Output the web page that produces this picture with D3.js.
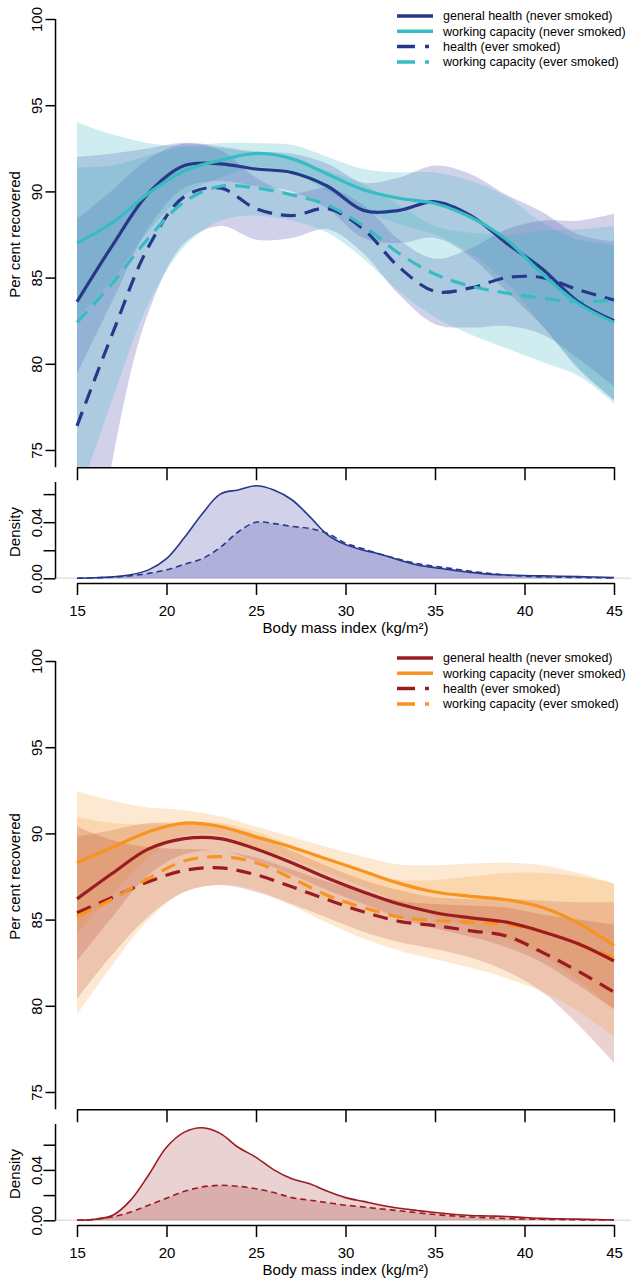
<!DOCTYPE html>
<html>
<head>
<meta charset="utf-8">
<script src="https://cdn.jsdelivr.net/npm/d3@7"></script>
<style>
  body { margin: 0; background: #fff; }
  text { font-family: "Liberation Sans", Arial, Helvetica, sans-serif; fill: #000; }
</style>
</head>
<body>
<div id="chart"></div>
<script>
// BMI positions where the smoothed curves were read
const bmiKnots = [15, 17, 19, 21, 23, 25, 27, 29, 31, 33, 35, 37, 39, 41, 43, 45];

// --- upper figure (blue) ---
const topHealthNever   = [83.6, 86.9, 89.9, 91.5, 91.6, 91.3, 91.1, 90.3, 88.9, 88.9, 89.4, 88.6, 87.0, 85.5, 83.6, 82.5];
const topHealthNeverLo = [79.4, 83.7, 87.9, 90.2, 90.6, 90.3, 90.0, 89.0, 87.3, 87.0, 87.3, 86.2, 84.2, 82.2, 79.7, 77.9];
const topHealthNeverHi = [88.4, 90.1, 91.9, 92.8, 92.6, 92.3, 92.2, 91.6, 90.5, 90.8, 91.5, 91.0, 89.8, 88.8, 87.5, 87.1];
const topWorkNever     = [87.0, 88.2, 89.9, 91.2, 91.8, 92.2, 91.9, 91.0, 90.1, 89.6, 89.3, 88.5, 87.2, 85.2, 83.5, 82.4];
const topWorkNeverLo   = [82.6, 84.9, 87.7, 89.8, 90.8, 91.4, 91.1, 90.0, 88.9, 88.1, 87.5, 86.4, 84.7, 82.2, 79.8, 77.9];
const topWorkNeverHi   = [91.4, 91.5, 92.1, 92.6, 92.8, 92.8, 92.7, 92.0, 91.3, 91.1, 91.1, 90.6, 89.7, 88.2, 87.2, 86.9];
const topHealthEver    = [76.4, 81.8, 86.8, 89.7, 90.2, 89.0, 88.6, 89.0, 87.8, 85.6, 84.2, 84.4, 85.0, 85.0, 84.3, 83.7];
const topHealthEverLo  = [60.0, 74.5, 83.0, 87.0, 88.0, 87.2, 87.3, 87.8, 86.4, 84.0, 82.3, 82.1, 82.2, 81.7, 80.3, 78.7];
const topHealthEverHi  = [92.0, 92.2, 92.5, 92.8, 92.4, 90.8, 89.9, 90.2, 89.2, 87.2, 86.1, 86.7, 87.8, 88.3, 88.3, 88.7];
const topWorkEver      = [82.4, 84.7, 87.3, 89.4, 90.3, 90.2, 89.8, 89.2, 88.0, 86.4, 85.2, 84.5, 84.1, 83.8, 83.6, 83.7];
const topWorkEverLo    = [72.0, 78.0, 83.5, 86.8, 88.3, 88.6, 88.3, 87.6, 86.1, 84.2, 82.7, 81.7, 80.9, 80.1, 79.3, 77.7];
const topWorkEverHi    = [94.0, 93.3, 92.8, 92.6, 92.5, 92.2, 91.8, 91.2, 90.4, 89.2, 88.0, 87.6, 87.5, 87.7, 87.8, 88.0];

// --- lower figure (red/orange) ---
const botHealthNever   = [86.2, 87.7, 89.1, 89.7, 89.7, 89.1, 88.3, 87.4, 86.6, 85.9, 85.4, 85.1, 84.85, 84.3, 83.6, 82.6];
const botHealthNeverLo = [82.6, 85.2, 87.6, 88.8, 89.0, 88.4, 87.6, 86.7, 85.9, 85.1, 84.5, 84.0, 83.4, 82.5, 81.2, 79.8];
const botHealthNeverHi = [89.8, 90.2, 90.6, 90.6, 90.4, 89.8, 89.0, 88.1, 87.3, 86.7, 86.3, 86.2, 86.2, 86.1, 86.0, 86.0];
const botWorkNever     = [88.3, 89.2, 90.1, 90.6, 90.4, 89.8, 89.2, 88.5, 87.8, 87.1, 86.6, 86.35, 86.15, 85.7, 84.8, 83.5];
const botWorkNeverLo   = [84.2, 86.5, 88.6, 89.9, 89.9, 89.2, 88.5, 87.7, 86.9, 86.0, 85.2, 84.6, 83.9, 82.9, 81.5, 79.8];
const botWorkNeverHi   = [92.45, 91.9, 91.5, 91.35, 91.0, 90.4, 89.8, 89.2, 88.65, 88.2, 88.15, 88.25, 88.3, 88.15, 87.7, 87.1];
const botHealthEver    = [85.4, 86.3, 87.2, 87.85, 88.0, 87.6, 86.9, 86.15, 85.45, 84.9, 84.65, 84.35, 84.05, 83.1, 82.0, 80.8];
const botHealthEverLo  = [80.4, 83.0, 85.2, 86.6, 87.0, 86.6, 85.9, 85.1, 84.3, 83.7, 83.3, 82.8, 82.0, 80.8, 78.9, 76.7];
const botHealthEverHi  = [90.4, 89.6, 89.2, 89.1, 89.0, 88.6, 87.9, 87.2, 86.6, 86.1, 85.9, 85.8, 85.7, 85.3, 85.0, 84.7];
const botWorkEver      = [85.2, 86.2, 87.4, 88.4, 88.65, 88.3, 87.4, 86.4, 85.7, 85.15, 84.95, 84.85, 84.7, 84.3, 83.6, 82.8];
const botWorkEverLo    = [79.5, 82.4, 85.0, 86.6, 87.0, 86.7, 85.8, 84.8, 83.9, 83.2, 82.7, 82.2, 81.6, 80.8, 79.7, 78.2];
const botWorkEverHi    = [90.95, 90.6, 90.5, 90.6, 90.6, 90.1, 89.3, 88.4, 87.7, 87.3, 87.3, 87.5, 87.7, 87.7, 87.5, 87.1];

// BMI density (one value per unit of BMI)
const densityBmi = d3.range(15, 46);
const topDensNever = [0, 0.0004, 0.001, 0.0025, 0.006, 0.014, 0.029, 0.046, 0.060, 0.063, 0.066, 0.063, 0.056, 0.044, 0.031, 0.024,
  0.020, 0.017, 0.013, 0.0095, 0.0075, 0.0058, 0.0042, 0.003, 0.0024, 0.002, 0.0017, 0.0015, 0.0012, 0.0009, 0.0005];
const topDensEver = [0, 0.0003, 0.0008, 0.0018, 0.0035, 0.006, 0.010, 0.014, 0.022, 0.033, 0.040, 0.039, 0.037, 0.0355, 0.032, 0.025,
  0.021, 0.017, 0.0135, 0.0105, 0.0085, 0.0068, 0.005, 0.0035, 0.0022, 0.0015, 0.001, 0.0008, 0.0006, 0.0004, 0.0002];
const botDensNever = [0, 0.0008, 0.004, 0.016, 0.036, 0.058, 0.070, 0.0735, 0.069, 0.058, 0.050, 0.040, 0.033, 0.029, 0.023, 0.018,
  0.015, 0.012, 0.0095, 0.0078, 0.0062, 0.0048, 0.0038, 0.0034, 0.003, 0.0022, 0.0015, 0.0012, 0.0009, 0.0006, 0.0003];
const botDensEver = [0, 0.0008, 0.0028, 0.0065, 0.012, 0.0175, 0.023, 0.0265, 0.0278, 0.027, 0.025, 0.022, 0.018, 0.016, 0.014, 0.012,
  0.0106, 0.009, 0.0076, 0.006, 0.0046, 0.0035, 0.0026, 0.002, 0.0014, 0.001, 0.0008, 0.0006, 0.0004, 0.0003, 0.0002];

const recoveredTicks = [75, 80, 85, 90, 95, 100];
const bmiTicks = [15, 20, 25, 30, 35, 40, 45];
const densityTicks = [0, 0.02, 0.04, 0.06];
const densityLabelled = [0, 0.04];
const legendLabels = ['general health (never smoked)', 'working capacity (never smoked)',
                      'health (ever smoked)', 'working capacity (ever smoked)'];

const W = 631, H = 1280;
const svg = d3.select('#chart').append('svg').attr('width', W).attr('height', H);

const x = d3.scaleLinear().domain([15, 45]).range([77, 614]);
const regionLeft = x(13.8), regionRight = x(46.2);

const figures = [
  {
    oy: 0, healthCol: '#27388a', workCol: '#38bcc4',
    healthBand: '#5b5fb4', healthBandOp: 0.28, workBand: '#41b6c4', workBandOp: 0.25,
    densCol: '#27388a', densFill: '#5b5fb4', densFillOp: 0.28,
    series: [
      { v: topHealthNever, lo: topHealthNeverLo, hi: topHealthNeverHi, kind: 'health', dash: false },
      { v: topWorkNever, lo: topWorkNeverLo, hi: topWorkNeverHi, kind: 'work', dash: false },
      { v: topHealthEver, lo: topHealthEverLo, hi: topHealthEverHi, kind: 'health', dash: true },
      { v: topWorkEver, lo: topWorkEverLo, hi: topWorkEverHi, kind: 'work', dash: true }
    ],
    densNever: topDensNever, densEver: topDensEver
  },
  {
    oy: 642, healthCol: '#9b1c20', workCol: '#f7931e',
    healthBand: '#9b1c20', healthBandOp: 0.2, workBand: '#f7931e', workBandOp: 0.2,
    densCol: '#9b1c20', densFill: '#9b1c20', densFillOp: 0.2,
    series: [
      { v: botHealthNever, lo: botHealthNeverLo, hi: botHealthNeverHi, kind: 'health', dash: false },
      { v: botWorkNever, lo: botWorkNeverLo, hi: botWorkNeverHi, kind: 'work', dash: false },
      { v: botHealthEver, lo: botHealthEverLo, hi: botHealthEverHi, kind: 'health', dash: true },
      { v: botWorkEver, lo: botWorkEverLo, hi: botWorkEverHi, kind: 'work', dash: true }
    ],
    densNever: botDensNever, densEver: botDensEver
  }
];

const FONT = 15;

figures.forEach((fig, fi) => {
  const g = svg.append('g').attr('transform', `translate(0,${fig.oy})`);

  // main panel scale: 100 -> 19, 75 -> 450
  const y = d3.scaleLinear().domain([75, 100]).range([450, 19]);
  const top = y(101), bottom = y(74);

  const clipId = 'clip' + fi;
  g.append('clipPath').attr('id', clipId)
    .append('rect').attr('x', regionLeft).attr('y', top)
    .attr('width', regionRight - regionLeft).attr('height', bottom - top);

  const plot = g.append('g').attr('clip-path', `url(#${clipId})`);

  const area = d3.area()
    .x(d => x(d.b)).y0(d => y(d.lo)).y1(d => y(d.hi))
    .curve(d3.curveCatmullRom);
  const line = d3.line()
    .x(d => x(d.b)).y(d => y(d.v))
    .curve(d3.curveCatmullRom);

  fig.series.forEach(s => {
    const pts = bmiKnots.map((b, i) => ({ b, lo: s.lo[i], hi: s.hi[i] }));
    plot.append('path')
      .attr('d', area(pts))
      .attr('fill', s.kind === 'health' ? fig.healthBand : fig.workBand)
      .attr('fill-opacity', s.kind === 'health' ? fig.healthBandOp : fig.workBandOp);
  });

  // dashed first, solid lines on top
  [2, 3, 0, 1].forEach(k => {
    const s = fig.series[k];
    plot.append('path')
      .attr('d', line(bmiKnots.map((b, i) => ({ b, v: s.v[i] }))))
      .attr('fill', 'none')
      .attr('stroke', s.kind === 'health' ? fig.healthCol : fig.workCol)
      .attr('stroke-width', 3.2)
      .attr('stroke-dasharray', s.dash ? '15,9' : null);
  });

  // y axis of main panel
  const yAx = g.append('g').attr('transform', `translate(${regionLeft},0)`)
    .call(d3.axisLeft(y).tickValues(recoveredTicks).tickSize(10).tickSizeOuter(0));
  yAx.select('.domain').remove();
  yAx.append('line').attr('x1', 0).attr('x2', 0).attr('y1', y(100)).attr('y2', bottom)
    .attr('stroke', '#000').attr('stroke-width', 1.5);
  yAx.selectAll('.tick line').attr('stroke-width', 1.5);
  yAx.selectAll('.tick text')
    .attr('transform', 'rotate(-90)').attr('x', 0).attr('y', -14).attr('dy', 0)
    .attr('text-anchor', 'middle').style('font-size', FONT + 'px');

  g.append('text')
    .attr('transform', `translate(20,${(top + bottom) / 2}) rotate(-90)`)
    .attr('text-anchor', 'middle').style('font-size', FONT + 'px')
    .text('Per cent recovered');

  // x axis under main panel (ticks only)
  const xTop = g.append('g').attr('transform', `translate(0,${bottom})`)
    .call(d3.axisBottom(x).tickValues(bmiTicks).tickSize(13).tickSizeOuter(0).tickFormat(''));
  xTop.select('.domain').attr('stroke-width', 1.5);
  xTop.selectAll('.tick line').attr('stroke-width', 1.5);

  // legend
  const leg = g.append('g');
  legendLabels.forEach((lab, i) => {
    const ly = 16 + i * 15.3;
    const s = fig.series[i];
    leg.append('line')
      .attr('x1', 397).attr('x2', 433).attr('y1', ly).attr('y2', ly)
      .attr('stroke', s.kind === 'health' ? fig.healthCol : fig.workCol)
      .attr('stroke-width', 3.5)
      .attr('stroke-dasharray', s.dash ? '18,10,4,10' : null);
    leg.append('text')
      .attr('x', 443).attr('y', ly).attr('dy', '0.35em')
      .style('font-size', '12.5px')
      .text(lab);
  });

  // density panel
  const dMax = d3.max(fig.densNever.concat(fig.densEver));
  const dy = d3.scaleLinear().domain([-0.04 * dMax, 1.04 * dMax]).range([582, 482]);

  g.append('line')
    .attr('x1', regionLeft).attr('x2', W).attr('y1', dy(0)).attr('y2', dy(0))
    .attr('stroke', '#e2e2e2').attr('stroke-width', 1.5);

  const dArea = d3.area().x((d, i) => x(densityBmi[i])).y0(dy(0)).y1(d => dy(d)).curve(d3.curveCatmullRom);
  const dLine = d3.line().x((d, i) => x(densityBmi[i])).y(d => dy(d)).curve(d3.curveCatmullRom);

  [fig.densNever, fig.densEver].forEach(arr => {
    g.append('path').attr('d', dArea(arr))
      .attr('fill', fig.densFill).attr('fill-opacity', fig.densFillOp);
  });
  [fig.densNever, fig.densEver].forEach((arr, k) => {
    g.append('path').attr('d', dLine(arr))
      .attr('fill', 'none').attr('stroke', fig.densCol).attr('stroke-width', 1.6)
      .attr('stroke-dasharray', k === 1 ? '6,4' : null);
  });

  const dAx = g.append('g').attr('transform', `translate(${regionLeft},0)`)
    .call(d3.axisLeft(dy).tickValues(densityTicks).tickSize(12).tickSizeOuter(0)
      .tickFormat(d => densityLabelled.includes(d) ? d3.format('.2f')(d) : ''));
  dAx.select('.domain').remove();
  dAx.append('line').attr('x1', 0).attr('x2', 0).attr('y1', 482).attr('y2', dy(0))
    .attr('stroke', '#000').attr('stroke-width', 1.5);
  dAx.selectAll('.tick line').attr('stroke-width', 1.5);
  dAx.selectAll('.tick text')
    .attr('transform', 'rotate(-90)').attr('x', 0).attr('y', -14).attr('dy', 0)
    .attr('text-anchor', 'middle').style('font-size', FONT + 'px');

  g.append('text')
    .attr('transform', `translate(20,532) rotate(-90)`)
    .attr('text-anchor', 'middle').style('font-size', FONT + 'px')
    .text('Density');

  const xAx = g.append('g').attr('transform', 'translate(0,583)')
    .call(d3.axisBottom(x).tickValues(bmiTicks).tickSize(12).tickPadding(10).tickSizeOuter(0));
  xAx.select('.domain').attr('stroke-width', 1.5);
  xAx.selectAll('.tick text').style('font-size', FONT + 'px');
  xAx.selectAll('.tick line').attr('stroke-width', 1.5);

  g.append('text')
    .attr('x', x(30)).attr('y', 633)
    .attr('text-anchor', 'middle').style('font-size', FONT + 'px')
    .text('Body mass index (kg/m²)');
});
</script>
</body>
</html>
